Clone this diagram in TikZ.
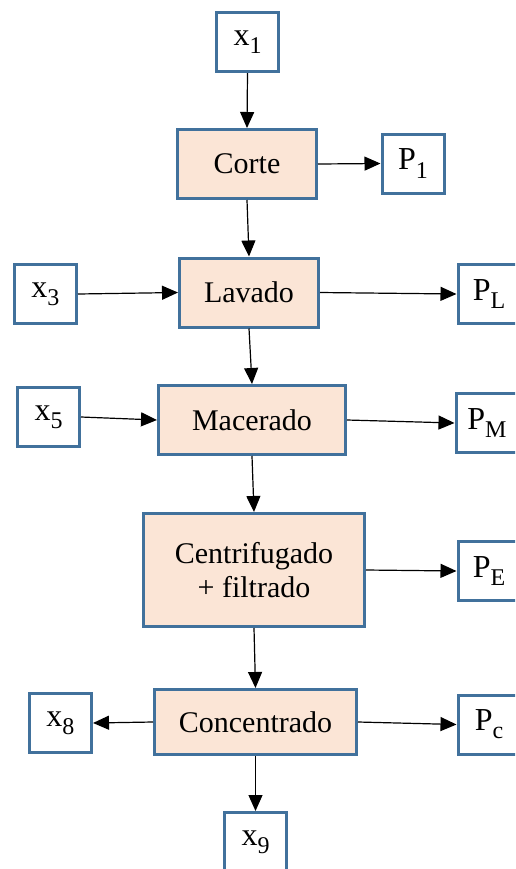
\documentclass[tikz,border=0pt]{standalone}
\usepackage{fontspec}
\setmainfont{Liberation Serif}
\usetikzlibrary{arrows.meta}
\definecolor{boxblue}{HTML}{41719C}
\definecolor{boxfill}{HTML}{FBE5D6}
\newcommand{\sbs}[1]{\raisebox{-0.55ex}{\fontsize{12}{12}\selectfont #1}}

\begin{document}
\begin{tikzpicture}[x=0.5pt, y=-0.5pt, font=\rmfamily\fontsize{15}{17}\selectfont]
  \tikzset{
    proc/.style={draw=boxblue, line width=1.5pt, fill=boxfill, align=center, inner sep=0pt},
    flow/.style={draw=boxblue, line width=1.5pt, fill=white, inner sep=0pt,
                 minimum width=31pt, minimum height=29.5pt, font=\rmfamily\fontsize{16}{18}\selectfont},
    arr/.style={-{Triangle[length=8pt, width=7pt]}, line width=0.6pt}
  }
  \useasboundingbox (0,0) rectangle (515,869);
  \clip (0,0) rectangle (515,869);

  % Procesos
  \node[proc, minimum width=69.5pt, minimum height=34.5pt] (corte) at (247,164) {Corte};
  \node[proc, minimum width=69.5pt, minimum height=34.5pt] (lavado) at (249,292.5) {Lavado};
  \node[proc, minimum width=93.5pt, minimum height=34.5pt] (macerado) at (252,420) {Macerado};
  \node[proc, minimum width=110.5pt, minimum height=56.5pt] (centri) at (254,570) {Centrifugado\\+ filtrado};
  \node[proc, minimum width=101pt, minimum height=32.5pt] (conc) at (255.5,722) {Concentrado};

  % Entradas y salidas
  \node[flow] (x1) at (247.5,42) {x\sbs{1}};
  \node[flow] (p1) at (413,163.5) {P\sbs{1}};
  \node[flow] (x3) at (45.5,294) {x\sbs{3}};
  \node[flow] (pl) at (489,294) {P\sbs{L}};
  \node[flow] (x5) at (48.5,417) {x\sbs{5}};
  \node[flow] (pm) at (487,423) {P\sbs{M}};
  \node[flow] (pe) at (489,571) {P\sbs{E}};
  \node[flow] (x8) at (60.5,723) {x\sbs{8}};
  \node[flow] (pc) at (489,724.5) {P\sbs{c}};
  \node[flow] (x9) at (255.5,842) {x\sbs{9}};

  % Flechas
  \draw[arr] (x1.south) -- (corte.north);
  \draw[arr] (corte.east) -- (p1.west);
  \draw[arr] (corte.south) -- (lavado.north);
  \draw[arr] (x3.east) -- (lavado.west);
  \draw[arr] (lavado.east) -- (pl.west);
  \draw[arr] (lavado.south) -- (macerado.north);
  \draw[arr] (x5.east) -- (macerado.west);
  \draw[arr] (macerado.east) -- (pm.west);
  \draw[arr] (macerado.south) -- (centri.north);
  \draw[arr] (centri.east) -- (pe.west);
  \draw[arr] (centri.south) -- (conc.north);
  \draw[arr] (conc.west) -- (x8.east);
  \draw[arr] (conc.east) -- (pc.west);
  \draw[arr] (conc.south) -- (x9.north);
\end{tikzpicture}
\end{document}
